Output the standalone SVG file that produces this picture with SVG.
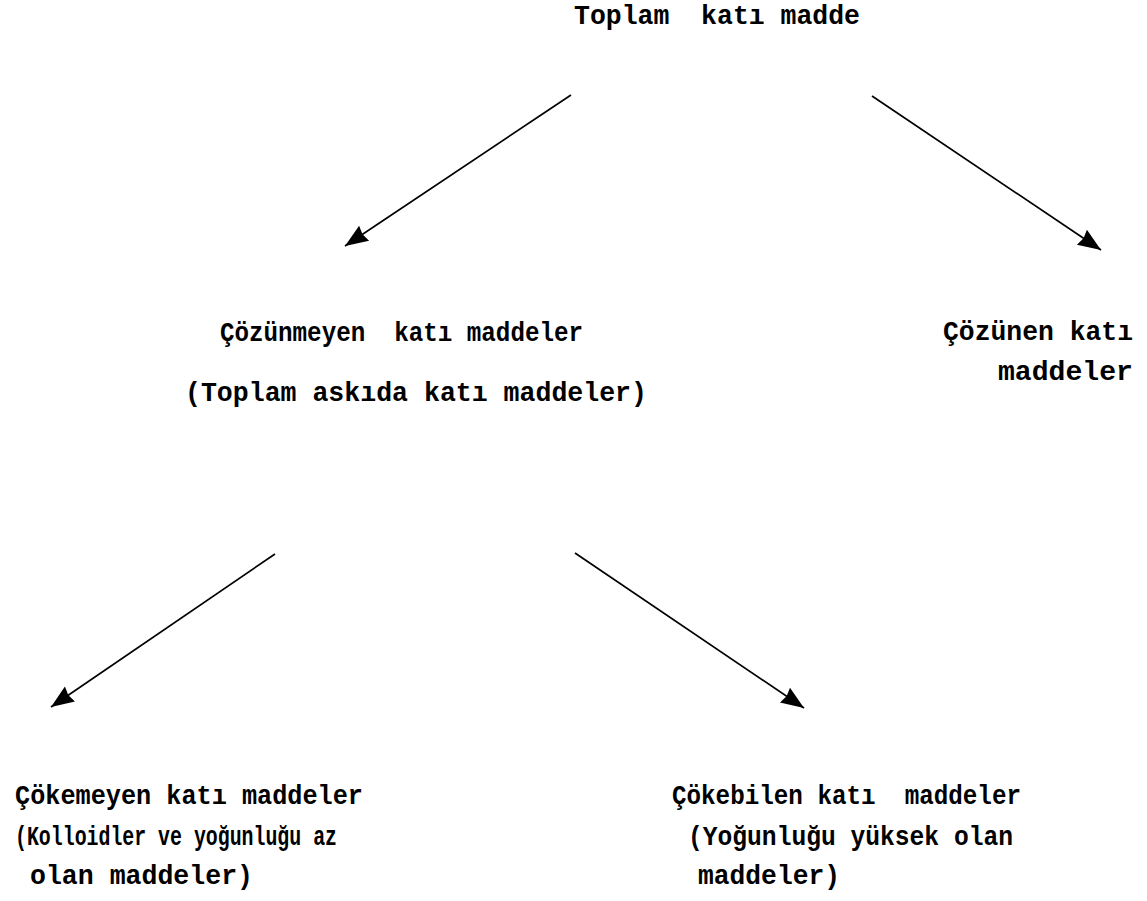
<svg xmlns="http://www.w3.org/2000/svg" width="1147" height="901" viewBox="0 0 1147 901">
<style>
text{font-family:"Liberation Mono","DejaVu Sans Mono",monospace;font-weight:bold;font-size:27px;fill:#000;white-space:pre}
.c{stroke:#000;stroke-width:1.7;fill:none}
</style>
<defs>
<marker id="ah" markerUnits="userSpaceOnUse" markerWidth="26" markerHeight="22" refX="23" refY="10" orient="auto">
<path d="M0,1 L23,10 L0,19 L2,10 Z" fill="#000"/>
</marker>
</defs>
<rect width="1147" height="901" fill="#fff"/>
<g id="connectors">
<line class="c" x1="571" y1="95" x2="345" y2="246" marker-end="url(#ah)"/>
<line class="c" x1="872" y1="96" x2="1101" y2="250" marker-end="url(#ah)"/>
<line class="c" x1="275" y1="554" x2="51" y2="707" marker-end="url(#ah)"/>
<line class="c" x1="575" y1="553" x2="804" y2="708" marker-end="url(#ah)"/>
</g>
<g id="n-total"><text x="574" y="24" textLength="286" lengthAdjust="spacingAndGlyphs">Toplam  katı madde</text></g>
<g id="n-cozunmeyen">
<text x="220" y="341" textLength="363" lengthAdjust="spacingAndGlyphs">Çözünmeyen  katı maddeler</text>
<text x="185" y="401" textLength="462" lengthAdjust="spacingAndGlyphs">(Toplam askıda katı maddeler)</text>
</g>
<g id="n-cozunen">
<text x="943" y="340" textLength="190" lengthAdjust="spacingAndGlyphs">Çözünen katı</text>
<text x="998" y="380" textLength="135" lengthAdjust="spacingAndGlyphs">maddeler</text>
</g>
<g id="n-cokemeyen">
<text x="15" y="804" textLength="348" lengthAdjust="spacingAndGlyphs">Çökemeyen katı maddeler</text>
<text x="15" y="845" textLength="322" lengthAdjust="spacingAndGlyphs">(Kolloidler ve yoğunluğu az</text>
<text x="30" y="884" textLength="223" lengthAdjust="spacingAndGlyphs">olan maddeler)</text>
</g>
<g id="n-cokebilen">
<text x="672" y="804" textLength="349" lengthAdjust="spacingAndGlyphs">Çökebilen katı  maddeler</text>
<text x="688" y="845" textLength="325" lengthAdjust="spacingAndGlyphs">(Yoğunluğu yüksek olan</text>
<text x="698" y="884" textLength="142" lengthAdjust="spacingAndGlyphs">maddeler)</text>
</g>
</svg>
